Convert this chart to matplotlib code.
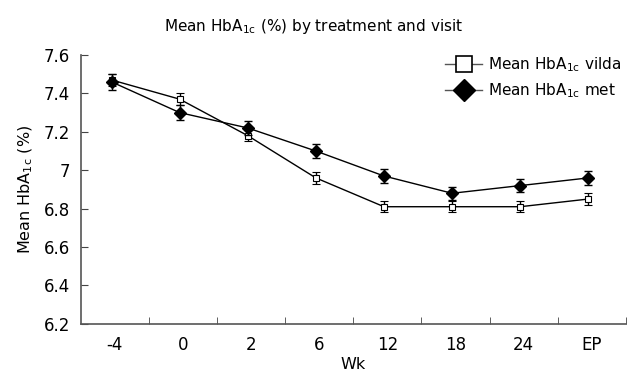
import numpy as np
import matplotlib
matplotlib.use("Agg")
import matplotlib.pyplot as plt
from matplotlib.lines import Line2D

# visits and values
visits = ['-4', '0', '2', '6', '12', '18', '24', 'EP']
vilda_mean = [7.47, 7.37, 7.18, 6.96, 6.81, 6.81, 6.81, 6.85]
vilda_err = [0.03, 0.03, 0.03, 0.03, 0.03, 0.03, 0.03, 0.03]
met_mean = [7.46, 7.30, 7.22, 7.10, 6.97, 6.88, 6.92, 6.96]
met_err = [0.04, 0.04, 0.035, 0.035, 0.035, 0.035, 0.035, 0.035]

plt.rcParams['font.family'] = ['DejaVu Sans']
plt.rcParams['font.size'] = 11

fig = plt.figure(figsize=(6.27, 3.74), dpi=100)
ax = fig.add_axes([0.129, 0.134, 0.869, 0.719])

x = np.arange(len(visits)) - 0.05

ax.errorbar(x, vilda_mean, yerr=vilda_err, color='black', lw=1, elinewidth=1,
            capsize=3, capthick=1, marker='s', ms=5, mfc='white', mec='black',
            mew=0.8, zorder=3)
ax.errorbar(x, met_mean, yerr=met_err, color='black', lw=1, elinewidth=1,
            capsize=3, capthick=1, marker='D', ms=6, mfc='black', mec='black',
            zorder=4)

ax.set_xlim(-0.5, len(visits) - 0.5)
ax.set_ylim(6.2, 7.6)
ax.set_yticks(np.arange(6.2, 7.61, 0.2))
ax.set_yticklabels(['6.2', '6.4', '6.6', '6.8', '7', '7.2', '7.4', '7.6'])
ax.set_xticks(np.arange(len(visits)))
ax.set_xticklabels(visits)
ax.set_xticks(np.arange(len(visits)) + 0.5, minor=True)
ax.tick_params(axis='x', which='major', length=0, pad=9, labelsize=12)
ax.tick_params(axis='x', which='minor', length=5, direction='in', color='#444')
ax.tick_params(axis='y', length=5, direction='in', color='#444', pad=8,
               labelsize=12)

for s in ['top', 'right']:
    ax.spines[s].set_visible(False)
for s in ['left', 'bottom']:
    ax.spines[s].set_color('#555')
    ax.spines[s].set_linewidth(1.2)

ax.set_xlabel('Wk', fontsize=11.5, labelpad=2)
ax.set_ylabel(r'Mean HbA$_{\rm 1c}$ (%)', fontsize=11.5, labelpad=6)
fig.suptitle(r'Mean HbA$_{\rm 1c}$ (%) by treatment and visit', x=0.5, y=0.955,
             fontsize=11)

handles = [
    Line2D([], [], color='#555', lw=1, marker='s', ms=11, mfc='white', mec='black', mew=1.2),
    Line2D([], [], color='#555', lw=1, marker='D', ms=11, mfc='black', mec='black'),
]
labels = [r'Mean HbA$_{\rm 1c}$ vilda', r'Mean HbA$_{\rm 1c}$ met']
fig.legend(handles, labels, loc='upper left', bbox_to_anchor=(0.71, 0.853),
           frameon=False, fontsize=11, handlelength=2.4, handletextpad=0.4,
           labelspacing=0.5, borderpad=0, borderaxespad=0)

fig.savefig('out.png', dpi=100)
